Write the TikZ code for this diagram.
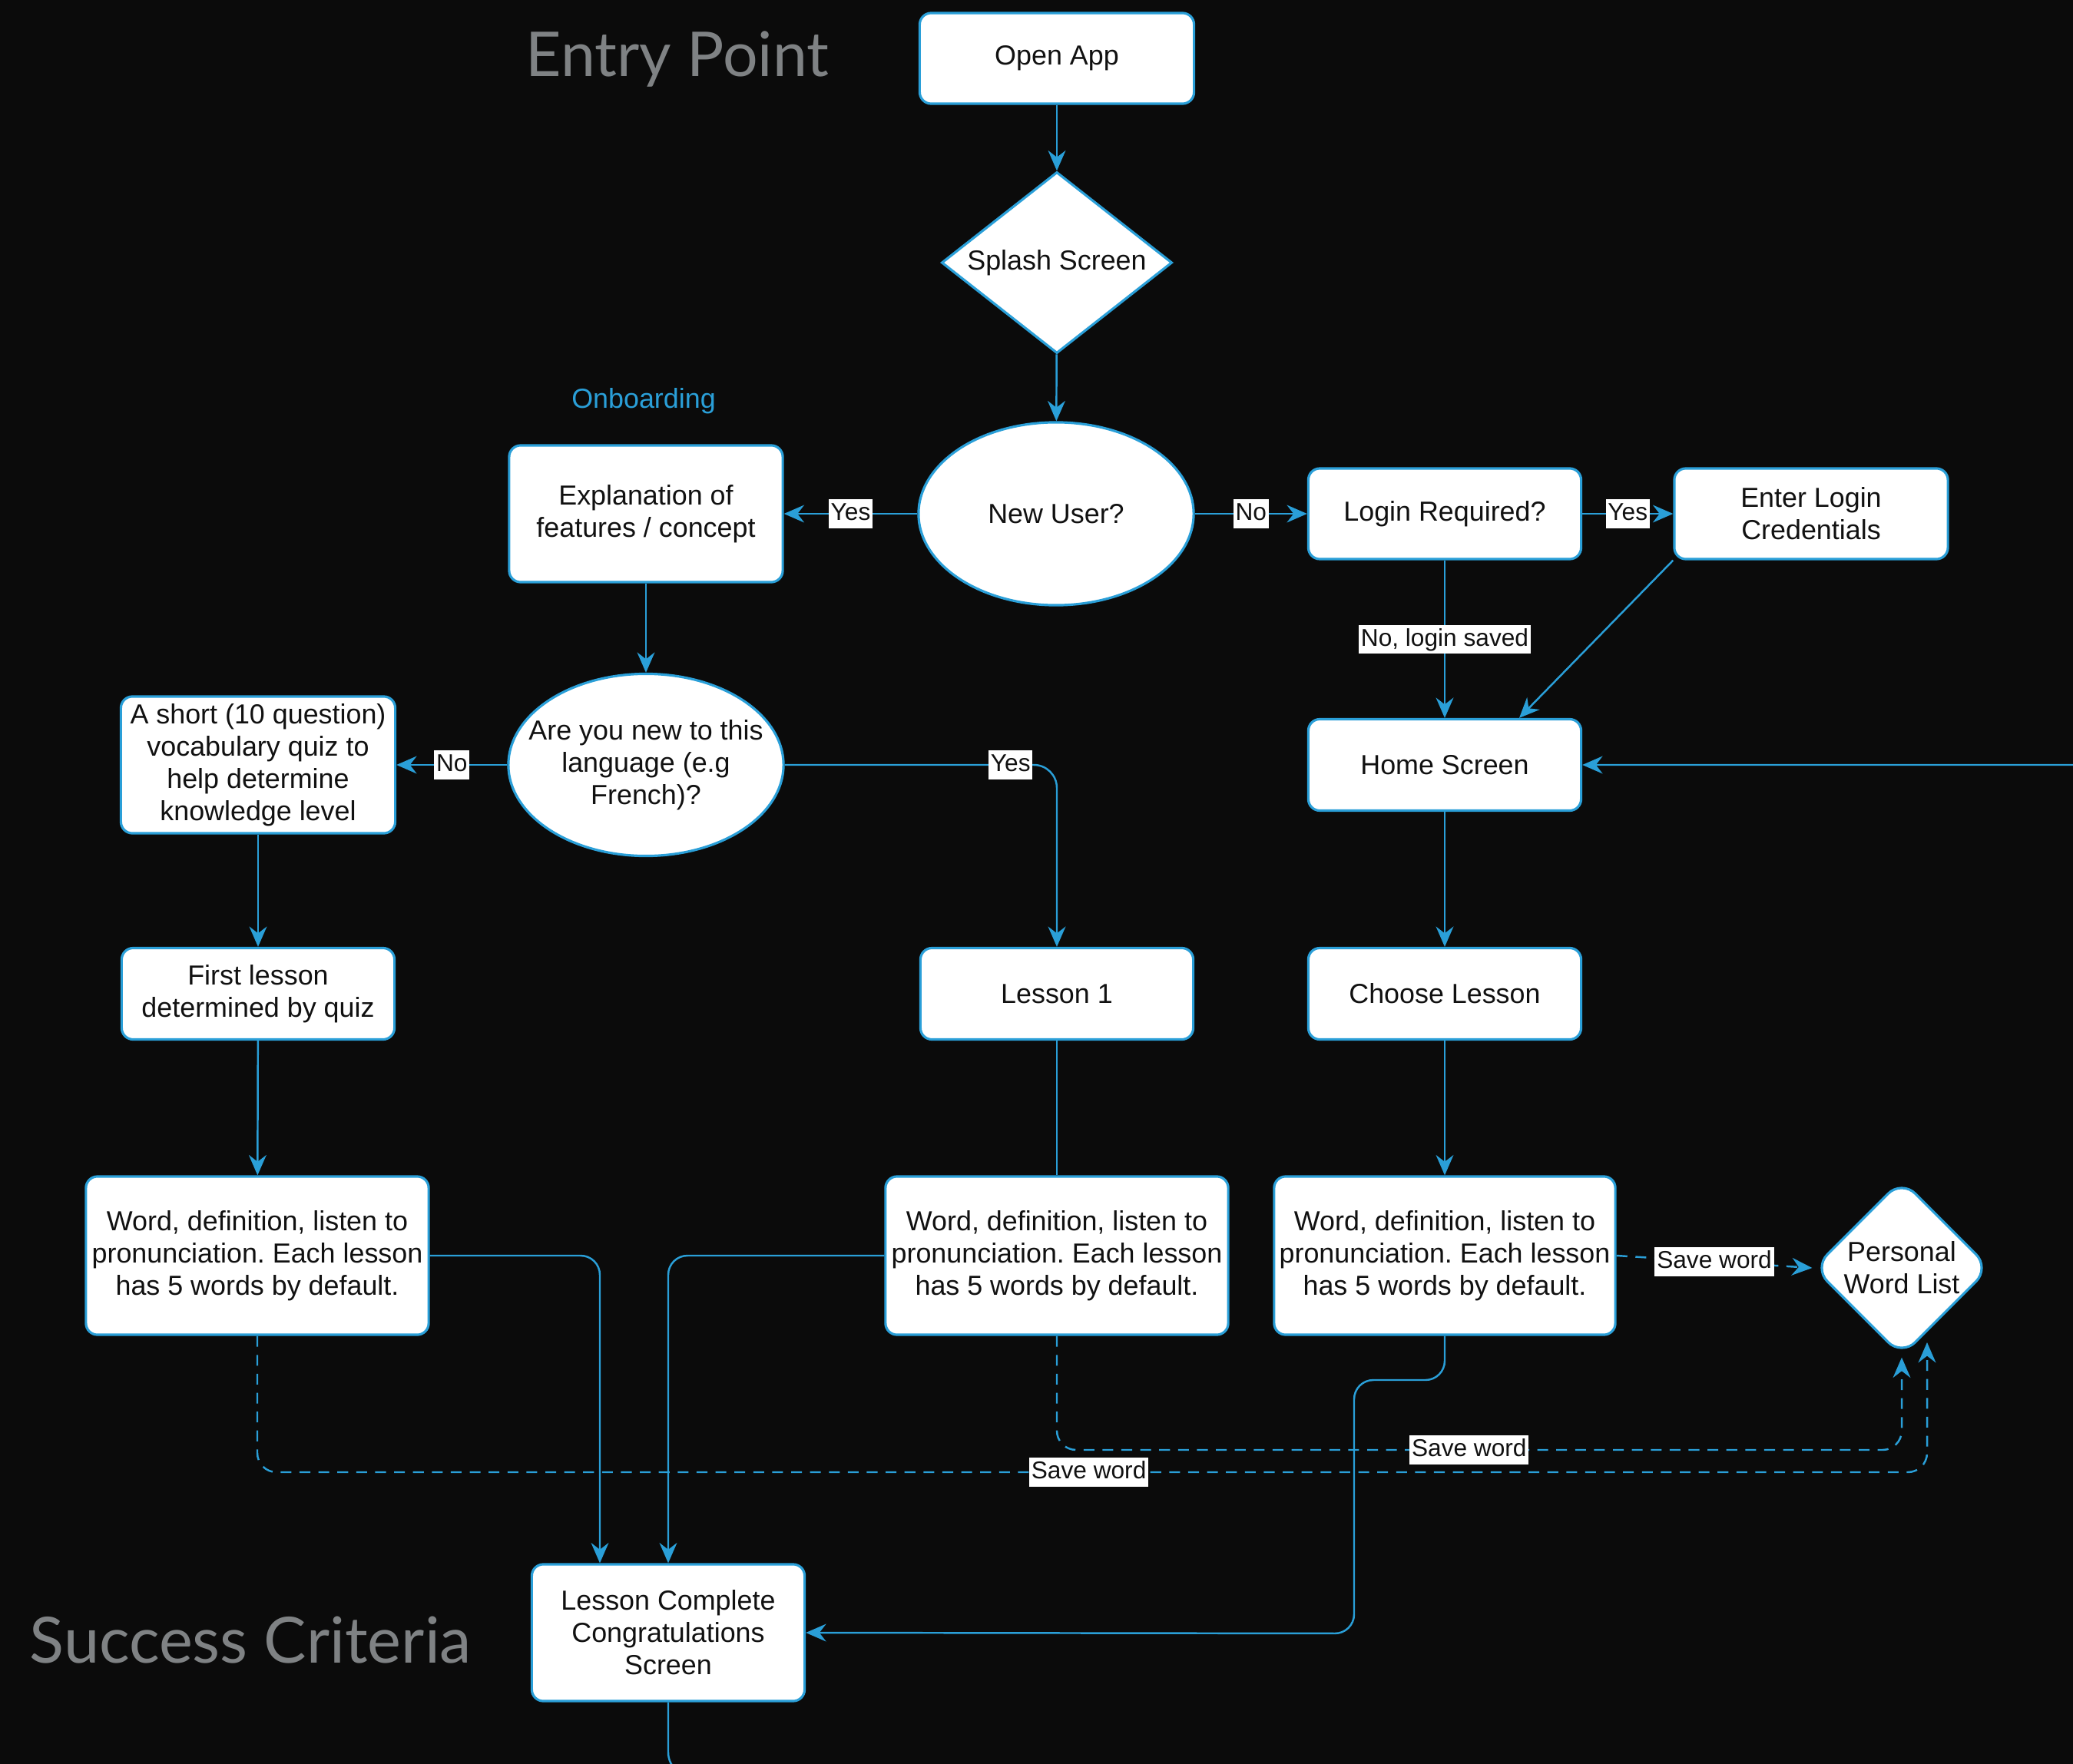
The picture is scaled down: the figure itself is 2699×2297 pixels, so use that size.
\documentclass[tikz,border=0pt]{standalone}
\usepackage{fontspec}
\setmainfont{Liberation Sans}
\newfontfamily\titlefont{Lato}
\usetikzlibrary{shapes.geometric,arrows.meta,calc}
\definecolor{bgc}{HTML}{0B0B0B}
\definecolor{lnc}{HTML}{2A9FD8}
\definecolor{ttc}{HTML}{7F8284}
\definecolor{txc}{HTML}{111111}
\frenchspacing
\begin{document}
\frenchspacing
\begin{tikzpicture}[x=0.01cm,y=-0.01cm,
  bodyfont/.style={font=\fontsize{10.2}{11.9}\selectfont},
  box/.style={draw=lnc,fill=white,line width=0.9pt,rounded corners=0.15cm,align=center,inner sep=0pt,bodyfont,text=txc},
  oval/.style={ellipse,draw=lnc,fill=white,line width=0.9pt,inner sep=0pt},
  dia/.style={diamond,draw=lnc,fill=white,line width=0.9pt,inner sep=0pt},
  txt/.style={align=center,inner sep=0pt,bodyfont,text=txc},
  conn/.style={draw=lnc,line width=0.7pt},
  arr/.style={conn,-{Stealth[length=7.5pt,width=6.5pt,inset=2.5pt]}},
  dsh/.style={arr,dash pattern=on 4pt off 3pt},
  lbl/.style={fill=white,text=txc,sharp corners,solid,font=\fontsize{9}{10}\selectfont,inner sep=0.8pt,text height=7pt,text depth=2pt},
  ttl/.style={text=ttc,inner sep=0pt,anchor=base west}
]
\fill[bgc] (0,0) rectangle (2699,2297);
\useasboundingbox (0,0) rectangle (2699,2297);

% titles
\node[ttl,font=\titlefont\fontsize{22.9}{27}\selectfont] (entry) at (684,100) {Entry Point};
\node[ttl,font=\titlefont\fontsize{23.6}{27}\selectfont] (success) at (38,2165) {Success Criteria};
\node[inner sep=0pt,bodyfont,text=lnc] (onb) at (838,522) {Onboarding};

% nodes
\node[box,minimum width=3.57cm,minimum height=1.18cm] (open) at (1376,76) {Open App};
\node[dia,minimum width=3.0cm,minimum height=2.36cm] (splash) at (1376,342) {};
\node[txt] (splasht) at (splash.center) {Splash Screen};
\node[oval,minimum width=3.58cm,minimum height=2.38cm] (newuser) at (1375,669) {};
\node[txt] (newusert) at (newuser.center) {New User?};
\node[box,minimum width=3.56cm,minimum height=1.78cm] (explain) at (841,669) {Explanation of\\features / concept};
\node[box,minimum width=3.55cm,minimum height=1.18cm] (login) at (1881,669) {Login Required?};
\node[box,minimum width=3.56cm,minimum height=1.18cm] (enter) at (2358,669) {Enter Login\\Credentials};
\node[box,minimum width=3.55cm,minimum height=1.19cm] (home) at (1881,996) {Home Screen};
\node[box,minimum width=3.57cm,minimum height=1.78cm] (quiz) at (336,996) {A short (10 question)\\vocabulary quiz to\\help determine\\knowledge level};
\node[oval,minimum width=3.58cm,minimum height=2.37cm] (arenew) at (841,996) {};
\node[txt] (arenewt) at (arenew.center) {Are you new to this\\language (e.g\\French)?};
\node[box,minimum width=3.55cm,minimum height=1.19cm] (first) at (336,1294) {First lesson\\determined by quiz};
\node[box,minimum width=3.55cm,minimum height=1.19cm] (lesson1) at (1376,1294) {Lesson 1};
\node[box,minimum width=3.55cm,minimum height=1.19cm] (choose) at (1881,1294) {Choose Lesson};
\node[box,minimum width=4.46cm,minimum height=2.06cm] (wordL) at (335,1635) {Word, definition, listen to\\pronunciation. Each lesson\\has 5 words by default.};
\node[box,minimum width=4.46cm,minimum height=2.06cm] (wordM) at (1376,1635) {Word, definition, listen to\\pronunciation. Each lesson\\has 5 words by default.};
\node[box,minimum width=4.44cm,minimum height=2.06cm] (wordR) at (1881,1635) {Word, definition, listen to\\pronunciation. Each lesson\\has 5 words by default.};
\node[dia,rounded corners=0.25cm,minimum width=2.3cm,minimum height=2.3cm] (pwl) at (2476,1651) {};
\node[txt] (pwlt) at (pwl.center) {Personal\\Word List};
\node[box,minimum width=3.55cm,minimum height=1.78cm] (lc) at (870,2126) {Lesson Complete\\Congratulations\\Screen};
\coordinate (pwlhit) at (2509,1748);

% connectors
\draw[arr] (open) -- (splash);
\draw[arr] (splash) -- (newuser);
\draw[arr] (newuser) -- node[lbl]{Yes} (explain);
\draw[arr] (newuser) -- node[lbl]{No} (login);
\draw[arr] (login) -- node[lbl]{Yes} (enter);
\draw[arr] (login) -- node[lbl]{No, login saved} (home);
\draw[arr] (enter.south west) -- ($(home.north)+(97,0)$);
\draw[arr] (explain) -- (arenew);
\draw[arr] (arenew) -- node[lbl]{No} (quiz);
\draw[arr,rounded corners=0.3cm] (arenew.east) -- node[lbl,pos=0.83]{Yes} (lesson1.north |- arenew.east) -- (lesson1.north);
\draw[arr] (quiz) -- (first);
\draw[arr] (first) -- (wordL);
\draw[conn] (lesson1) -- (wordM);
\draw[arr] (home) -- (choose);
\draw[arr] (choose) -- (wordR);

\draw[arr,rounded corners=0.25cm] (wordL.east) -| ($(lc.north)+(-89,0)$);
\draw[arr,rounded corners=0.25cm] (wordM.west) -| (lc.north);
\draw[arr,rounded corners=0.25cm] (wordR.south) -- (1881,1797) -- (1763,1797) -- (1763,2127) -- (lc.east);

\draw[dsh] (wordR.east) -- node[lbl]{Save word} (pwl.west);
\draw[dsh,rounded corners=0.25cm] (wordM.south) |- node[lbl,pos=0.744]{Save word} (2476,1888) -- (pwl.south);
\draw[dsh,rounded corners=0.25cm] (wordL.south) |- node[lbl,pos=0.749]{Save word} (2509,1917) -- (pwlhit);

\begin{scope}
\clip (0,0) rectangle (2699,2297);
\draw[arr,rounded corners=0.3cm] (lc.south) -- (870,2312) -- (2740,2312) -- (2740,996) -- (home.east);
\end{scope}
\end{tikzpicture}
\end{document}
